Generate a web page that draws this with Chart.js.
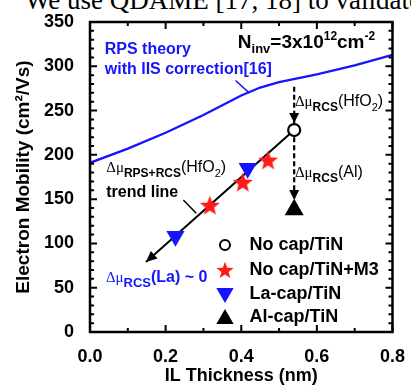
<!DOCTYPE html>
<html>
<head>
<meta charset="utf-8">
<script src="https://cdn.jsdelivr.net/npm/chart.js@4.4.1/dist/chart.umd.min.js"></script>
<style>
    html, body { margin: 0; padding: 0; background: #fff; overflow: hidden; }
    #wrap { position: relative; width: 411px; height: 385px; overflow: hidden; }
    #cap { position: absolute; left: 25px; top: -13px; font: 27px "Liberation Serif", serif; white-space: nowrap; line-height: 27px; color: #000; }
    canvas { position: absolute; left: 0; top: 0; }
</style>
</head>
<body>
<div id="wrap">
    <div id="cap">We use QDAME [17, 18] to validate</div>
    <canvas id="mobilityChart" width="411" height="385"></canvas>
</div>
<script>
// RPS theory curve (with IIS correction)
const rpsX = [0, 0.1, 0.2, 0.3, 0.4, 0.45, 0.5, 0.6, 0.7, 0.8];
const rpsY = [191, 207, 225, 245, 267, 276, 282, 291, 301, 313];

// measured points
const noCapX = [0.54];
const noCapY = [228];
const m3X = [0.317, 0.404, 0.471];
const m3Y = [143, 169, 194];
const laCapX = [0.226, 0.417];
const laCapY = [108, 185];
const alCapX = [0.54];
const alCapY = [138];

// trend line and the two dashed arrows
const trendX = [0.54, 0.148];
const trendY = [228, 79];
const hfArrowX = [0.54, 0.54];
const hfArrowY = [277, 236];
const alArrowX = [0.54, 0.54];
const alArrowY = [220, 149];

const xTicks = [0, 0.2, 0.4, 0.6, 0.8];
const legendLabels = ['No cap/TiN', 'No cap/TiN+M3', 'La-cap/TiN', 'Al-cap/TiN'];

const BLUE = '#1414ff';
const RED = '#ff1a1a';
const SANS = '"Liberation Sans", Arial, sans-serif';

const pts = (xs, ys) => xs.map((x, i) => ({ x: x, y: ys[i] }));

// filled five point star used as point style
function makeStar(r, color) {
    const c = document.createElement('canvas');
    c.width = c.height = Math.ceil(r * 2 + 2);
    const g = c.getContext('2d');
    const cx = c.width / 2, cy = c.height / 2 + r * 0.08;
    g.beginPath();
    for (let i = 0; i < 10; i++) {
        const rr = i % 2 === 0 ? r : r * 0.42;
        const a = -Math.PI / 2 + i * Math.PI / 5;
        g.lineTo(cx + rr * Math.cos(a), cy + rr * Math.sin(a));
    }
    g.closePath();
    g.fillStyle = color;
    g.fill();
    return c;
}
const bigStar = makeStar(10.5, RED);
const smallStar = makeStar(9, RED);

function arrowHead(ctx, x0, y0, x1, y1, len, half) {
    const a = Math.atan2(y1 - y0, x1 - x0);
    ctx.beginPath();
    ctx.moveTo(x1, y1);
    ctx.lineTo(x1 - len * Math.cos(a) + half * Math.sin(a), y1 - len * Math.sin(a) - half * Math.cos(a));
    ctx.lineTo(x1 - len * Math.cos(a) - half * Math.sin(a), y1 - len * Math.sin(a) + half * Math.cos(a));
    ctx.closePath();
    ctx.fill();
}

// text with sub/superscripts: [text, font, dy, color]
function rich(ctx, x, y, parts) {
    ctx.textAlign = 'left';
    ctx.textBaseline = 'alphabetic';
    parts.forEach(([t, font, dy, color]) => {
        ctx.font = font;
        ctx.fillStyle = color;
        ctx.fillText(t, x, y + dy);
        x += ctx.measureText(t).width;
    });
}

const decorations = {
    id: 'decorations',
    afterDatasetsDraw(chart) {
        const ctx = chart.ctx;
        const xs = chart.scales.x, ys = chart.scales.y;
        const P = (x, y) => [xs.getPixelForValue(x), ys.getPixelForValue(y)];
        const { left, right, top, bottom } = chart.chartArea;
        ctx.save();

        // arrow heads
        ctx.fillStyle = '#000';
        let a = P(trendX[0], trendY[0]), b = P(trendX[1], trendY[1]);
        arrowHead(ctx, a[0], a[1], b[0], b[1], 11, 5);
        a = P(hfArrowX[0], hfArrowY[0]); b = P(hfArrowX[1], hfArrowY[1]);
        arrowHead(ctx, a[0], a[1], b[0], b[1], 10, 5);
        a = P(alArrowX[0], alArrowY[0]); b = P(alArrowX[1], alArrowY[1]);
        arrowHead(ctx, a[0], a[1], b[0], b[1], 10, 5);

        // leader lines
        ctx.lineWidth = 1.5;
        ctx.strokeStyle = BLUE;
        ctx.beginPath();
        ctx.moveTo(...P(0.385, 284)); ctx.lineTo(...P(0.421, 270));
        ctx.stroke();
        ctx.strokeStyle = '#000';
        ctx.beginPath();
        ctx.moveTo(...P(0.247, 149)); ctx.lineTo(...P(0.281, 134));
        ctx.stroke();

        // annotations
        const dm = '15px "Liberation Serif", serif';
        const sub = 'bold 12px ' + SANS;
        const txt = '16px ' + SANS;
        let p = P(0.039, 314);
        rich(ctx, p[0], p[1], [['RPS theory', 'bold 16px ' + SANS, 0, BLUE]]);
        p = P(0.039, 291);
        rich(ctx, p[0], p[1], [['with IIS correction[16]', 'bold 16px ' + SANS, 0, BLUE]]);
        p = P(0.391, 320.5);
        rich(ctx, p[0], p[1], [
            ['N', 'bold 19px ' + SANS, 0, '#000'], ['inv', 'bold 13px ' + SANS, 5, '#000'],
            ['=3x10', 'bold 19px ' + SANS, 0, '#000'], ['12', 'bold 12px ' + SANS, -8, '#000'],
            ['cm', 'bold 19px ' + SANS, 0, '#000'], ['-2', 'bold 12px ' + SANS, -8, '#000']
        ]);
        p = P(0.542, 255);
        rich(ctx, p[0], p[1], [['\u0394\u03bc', dm, 0, '#000'], ['RCS', sub, 5, '#000'],
            ['(HfO', txt, 0, '#000'], ['2', '11px ' + SANS, 5, '#000'], [')', txt, 0, '#000']]);
        p = P(0.542, 175);
        rich(ctx, p[0], p[1], [['\u0394\u03bc', dm, 0, '#000'], ['RCS', sub, 5, '#000'], ['(Al)', txt, 0, '#000']]);
        p = P(0.043, 180.6);
        rich(ctx, p[0], p[1], [['\u0394\u03bc', dm, 0, '#000'], ['RPS+RCS', sub, 5, '#000'],
            ['(HfO', txt, 0, '#000'], ['2', '11px ' + SANS, 5, '#000'], [')', txt, 0, '#000']]);
        p = P(0.043, 152.4);
        rich(ctx, p[0], p[1], [['trend line', 'bold 16px ' + SANS, 0, '#000']]);
        p = P(0.042, 56.4);
        rich(ctx, p[0], p[1], [['\u0394\u03bc', dm, 0, BLUE], ['RCS', 'bold 13px ' + SANS, 5, BLUE],
            ['(La) ~ 0', 'bold 16px ' + SANS, 0, BLUE]]);

        // legend
        const rowsY = [98.2, 70, 42.9, 16.9];
        const styles = [
            { pointStyle: 'circle', radius: 5, rotation: 0, borderWidth: 2, fill: '#fff', stroke: '#000' },
            { pointStyle: smallStar, radius: 8, rotation: 0, borderWidth: 0, fill: RED, stroke: RED },
            { pointStyle: 'triangle', radius: 10, rotation: 180, borderWidth: 0, fill: BLUE, stroke: BLUE },
            { pointStyle: 'triangle', radius: 10, rotation: 0, borderWidth: 0, fill: '#000', stroke: '#000' }
        ];
        legendLabels.forEach((lab, i) => {
            const m = P(0.357, rowsY[i]);
            const s = styles[i];
            ctx.fillStyle = s.fill;
            ctx.strokeStyle = s.stroke;
            ctx.lineWidth = s.borderWidth;
            Chart.helpers.drawPoint(ctx, s, m[0], m[1] + (s.pointStyle === 'triangle' ? (s.rotation ? -1 : 2) : 0));
            const t = P(0.422, rowsY[i]);
            ctx.font = 'bold 18px ' + SANS;
            ctx.fillStyle = '#000';
            ctx.textBaseline = 'middle';
            ctx.fillText(lab, t[0], t[1]);
        });

        // frame and inward ticks on all four sides
        ctx.strokeStyle = '#000';
        ctx.lineWidth = 2.5;
        ctx.strokeRect(left, top, right - left, bottom - top);
        ctx.lineWidth = 2;
        ctx.beginPath();
        for (let i = 0; i <= 8; i++) {
            const x = xs.getPixelForValue(i / 10);
            const l = i % 2 === 0 ? 7 : 4;
            ctx.moveTo(x, bottom); ctx.lineTo(x, bottom - l);
            ctx.moveTo(x, top); ctx.lineTo(x, top + l);
        }
        for (let v = 0; v <= 350; v += 10) {
            const y = ys.getPixelForValue(v);
            const l = v % 50 === 0 ? 7 : 4;
            ctx.moveTo(left, y); ctx.lineTo(left + l, y);
            ctx.moveTo(right, y); ctx.lineTo(right - l, y);
        }
        ctx.stroke();
        ctx.restore();
    }
};

const tickFont = { family: SANS, size: 18, weight: 'bold' };

new Chart(document.getElementById('mobilityChart').getContext('2d'), {
    type: 'scatter',
    data: {
        datasets: [
            { label: legendLabels[0], data: pts(noCapX, noCapY), order: 1, pointStyle: 'circle', pointRadius: 6,
              pointBackgroundColor: '#fff', pointBorderColor: '#000', pointBorderWidth: 2.2 },
            { label: legendLabels[1], data: pts(m3X, m3Y), order: 1, pointStyle: bigStar, pointRadius: 10 },
            { label: legendLabels[2], data: pts(laCapX, laCapY), order: 1, pointStyle: 'triangle', pointRotation: 180,
              pointRadius: 10.5, pointBackgroundColor: BLUE, pointBorderColor: BLUE, pointBorderWidth: 0 },
            { label: legendLabels[3], data: pts(alCapX, alCapY), order: 1, pointStyle: 'triangle', pointRadius: 11,
              pointBackgroundColor: '#000', pointBorderColor: '#000', pointBorderWidth: 0 },
            { label: 'trend', data: pts(trendX, trendY), order: 2, showLine: true, borderColor: '#000',
              borderWidth: 2, pointRadius: 0 },
            { label: 'hf', data: pts(hfArrowX, hfArrowY), order: 2, showLine: true, borderColor: '#000',
              borderWidth: 2.2, borderDash: [5, 3], pointRadius: 0 },
            { label: 'al', data: pts(alArrowX, alArrowY), order: 2, showLine: true, borderColor: '#000',
              borderWidth: 2.2, borderDash: [5, 3], pointRadius: 0 },
            { label: 'RPS', data: pts(rpsX, rpsY), order: 3, showLine: true, borderColor: BLUE,
              borderWidth: 2.3, pointRadius: 0 }
        ]
    },
    options: {
        responsive: false,
        animation: false,
        layout: { padding: { top: 22, right: 14, left: 0, bottom: 0 } },
        plugins: { legend: { display: false }, tooltip: { enabled: false } },
        scales: {
            x: {
                type: 'linear', min: 0, max: 0.8,
                afterBuildTicks: s => { s.ticks = xTicks.map(v => ({ value: v })); },
                ticks: { font: tickFont, color: '#000', padding: 6, maxRotation: 0,
                         callback: v => Number(v).toFixed(1) },
                grid: { display: false }, border: { display: false },
                title: { display: true, text: 'IL Thickness (nm)', color: '#000', padding: 0,
                         font: { family: SANS, size: 18, weight: 'bold', lineHeight: 1 } },
                afterFit: s => { s.height = 53; }
            },
            y: {
                min: 0, max: 350,
                ticks: { stepSize: 50, font: tickFont, color: '#000', padding: 8 },
                grid: { display: false }, border: { display: false },
                title: { display: true, text: 'Electron Mobility (cm\u00b2/Vs)', color: '#000', padding: { top: 14 },
                         font: { family: SANS, size: 19, weight: 'bold', lineHeight: 1 } },
                afterFit: s => { s.width = 90; }
            }
        }
    },
    plugins: [decorations]
});
</script>
</body>
</html>
